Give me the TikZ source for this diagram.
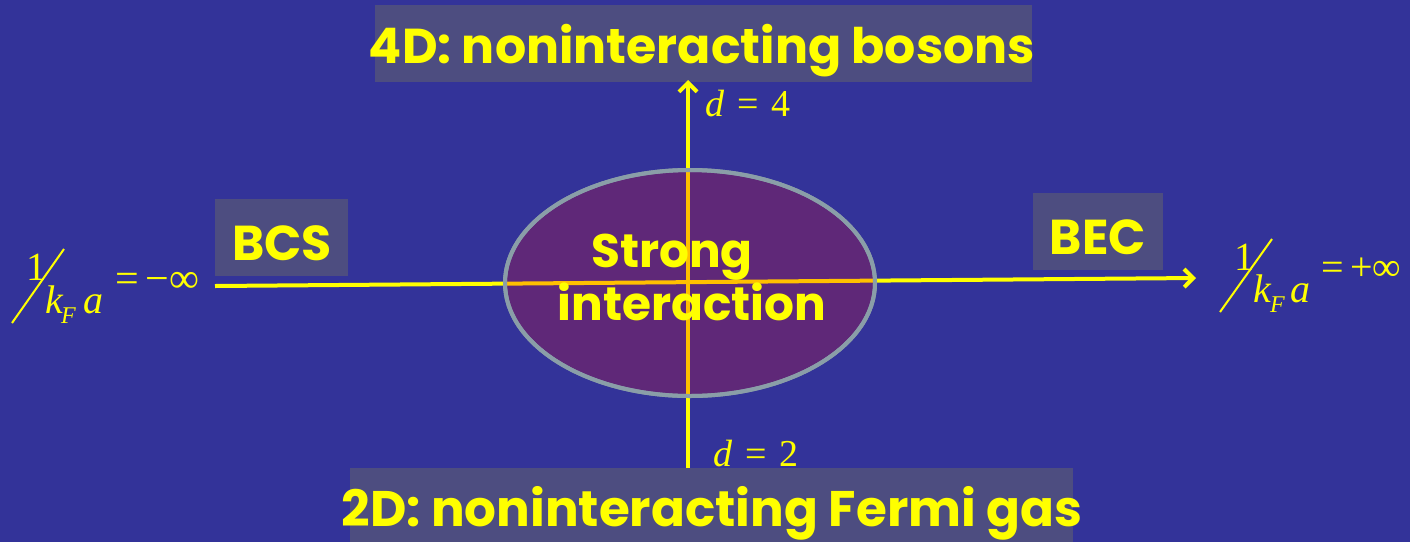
\documentclass[tikz,border=0pt]{standalone}
\usepackage[no-math]{fontspec}
\newfontfamily\comic{Poppins}
\newfontfamily\tms{Liberation Serif}
\usetikzlibrary{arrows.meta,shapes.geometric}
\definecolor{bg}{HTML}{333399}
\definecolor{boxc}{HTML}{4D4D80}
\definecolor{ellf}{HTML}{5F2878}
\definecolor{elld}{HTML}{8A9EA8}
\definecolor{ylw}{HTML}{FFFF00}
\definecolor{orn}{HTML}{FFC000}
\tikzset{
  ctext/.style={text=ylw,font=\comic\bfseries\fontsize{49}{53}\selectfont,anchor=base,inner sep=0pt},
  mtext/.style={text=ylw,font=\tms\fontsize{38}{38}\selectfont,inner sep=0pt,anchor=base west},
  big/.style={mtext,font=\tms\fontsize{40}{40}\selectfont},
  bigit/.style={mtext,font=\tms\itshape\fontsize{40}{40}\selectfont},
  subit/.style={mtext,font=\tms\itshape\fontsize{24}{24}\selectfont},
  axis/.style={draw=ylw,line width=4pt},
  ell/.style={ellipse,draw=elld,line width=4pt,minimum width=370pt,minimum height=226pt,inner sep=0pt},
  barb/.style={-{Straight Barb[length=9pt,width=18pt,line width=4pt]}},
}
\begin{document}
\begin{tikzpicture}[x=1pt,y=-1pt]
\fill[bg] (0,0) rectangle (1410,542);
\useasboundingbox (0,0) rectangle (1410,542);
% boxes
\fill[boxc] (375,5) rectangle (1032,82);
\fill[boxc] (350,468) rectangle (1073,542);
\fill[boxc] (215,199) rectangle (348,276);
\fill[boxc] (1033,193) rectangle (1163,270);
% axes
\coordinate (L) at (215,286);
\coordinate (R) at (1196,278);
\coordinate (T) at (688,80);
\coordinate (B) at (688,468);
\draw[axis,barb] (L) -- (R);
\draw[axis,barb] (B) -- (T);
% ellipse
\node[ell,fill=ellf] (E) at (690,283) {};
\begin{scope}
\clip (690,283) ellipse (183pt and 111pt);
\draw[draw=orn,line width=4pt] (L) -- (R);
\draw[draw=orn,line width=4pt] (B) -- (T);
\end{scope}
\node[ell] (E2) at (690,283) {};
% texts
\node[ctext] (top) at (702,63) {4D: noninteracting bosons};
\node[ctext,font=\comic\bfseries\fontsize{50}{53}\selectfont] (bot) at (712,526) {2D: noninteracting Fermi gas};
\node[ctext] (bcs) at (282,260) {BCS};
\node[ctext] (bec) at (1098,254) {BEC};
\node[ctext,font=\comic\bfseries\fontsize{47}{53}\selectfont] (s1) at (672,267) {Strong};
\node[ctext,font=\comic\bfseries\fontsize{47}{53}\selectfont] (s2) at (692,320) {interaction};
% d labels
\node[mtext] (d4) at (705,116) {\textit{d}\hspace{13pt}=\hspace{13pt}4};
\node[mtext] (d2) at (713,466) {\textit{d}\hspace{13pt}=\hspace{13pt}2};
% left fraction
\node[big] (l1) at (26,280) {1};
\draw[ylw,line width=2pt] (12,323) -- (64,249);
\node[bigit] (lk) at (45,313) {k};
\node[subit] (lF) at (61,323) {F};
\node[bigit] (la) at (83,313) {a};
\node[big,font=\tms\fontsize{42}{42}\selectfont] (leq) at (115,292) {=\,−∞};
% right fraction
\node[big] (r1) at (1234,270) {1};
\draw[ylw,line width=2pt] (1220,312) -- (1272,239);
\node[bigit] (rk) at (1253,302) {k};
\node[subit] (rF) at (1270,312) {F};
\node[bigit] (ra) at (1290,302) {a};
\node[big] (req) at (1321,280) {=\,+∞};
\end{tikzpicture}
\end{document}
